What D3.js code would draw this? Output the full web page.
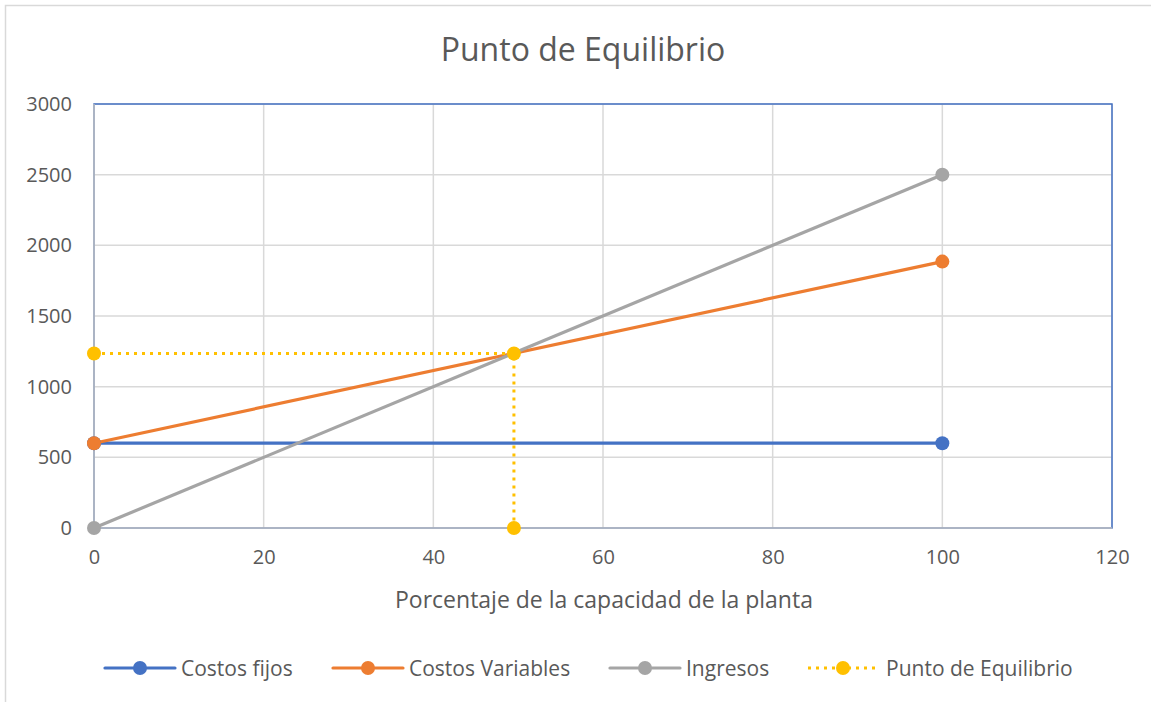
<!DOCTYPE html>
<html><head><meta charset="utf-8">
<script src="https://cdn.jsdelivr.net/npm/d3@7"></script>
<style>body{margin:0;background:#fff}svg{display:block}</style>
</head><body>
<script>
const xTicks = [0,20,40,60,80,100,120];
const yTicks = [0,500,1000,1500,2000,2500,3000];
const costosFijos = [[0,600],[100,600]];
const costosVariables = [[0,600],[100,1885]];
const ingresos = [[0,0],[100,2500]];
const puntoEquilibrio = [[0,1235],[49.5,1235],[49.5,0]];
const seriesNames = ["Costos fijos","Costos Variables","Ingresos","Punto de Equilibrio"];
const seriesColors = ["#4472C4","#ED7D31","#A5A5A5","#FFC000"];
const title = "Punto de Equilibrio";
const xTitle = "Porcentaje de la capacidad de la planta";

const W=1151,H=702;
const font="'Open Sans', sans-serif";
const svg=d3.select("body").append("svg").attr("width",W).attr("height",H);
svg.append("path").attr("d","M5.5,702 V5.5 H1151").attr("fill","none").attr("stroke","#d9d9d9").attr("stroke-width",1.5);

const x=d3.scaleLinear().domain([0,120]).range([94,1112]);
const y=d3.scaleLinear().domain([0,3000]).range([528,104]);

svg.append("text").attr("x",583).attr("y",61).attr("text-anchor","middle")
  .attr("font-family",font).attr("font-size",32).attr("fill","#595959").text(title);

svg.append("g").selectAll("line").data(yTicks.slice(1)).join("line")
  .attr("x1",x(0)).attr("x2",x(120)).attr("y1",d=>y(d)).attr("y2",d=>y(d))
  .attr("stroke","#d9d9d9").attr("stroke-width",1.5);
svg.append("g").selectAll("line").data(xTicks.slice(1)).join("line")
  .attr("y1",y(0)).attr("y2",y(3000)).attr("x1",d=>x(d)).attr("x2",d=>x(d))
  .attr("stroke","#d9d9d9").attr("stroke-width",1.5);
svg.append("rect").attr("x",x(0)).attr("y",y(3000)).attr("width",x(120)-x(0)).attr("height",y(0)-y(3000))
  .attr("fill","none").attr("stroke","#4472C4").attr("stroke-width",1.5);
svg.append("line").attr("x1",x(0)).attr("x2",x(0)).attr("y1",y(0)).attr("y2",y(3000)).attr("stroke","#bfbfbf").attr("stroke-width",1.5);
svg.append("line").attr("x1",x(0)).attr("x2",x(120)).attr("y1",y(0)).attr("y2",y(0)).attr("stroke","#bfbfbf").attr("stroke-width",1.5);

const yAxis=svg.append("g").attr("transform",`translate(${x(0)},0)`)
  .call(d3.axisLeft(y).tickValues(yTicks).tickFormat(d3.format("d")).tickSize(0).tickPadding(22));
const xAxis=svg.append("g").attr("transform",`translate(0,${y(0)})`)
  .call(d3.axisBottom(x).tickValues(xTicks).tickFormat(d3.format("d")).tickSize(0).tickPadding(22));
[yAxis,xAxis].forEach(a=>{a.select(".domain").remove();
  a.selectAll("text").attr("font-family",font).attr("font-size",20).attr("fill","#595959");});

svg.append("text").attr("x",604).attr("y",608).attr("text-anchor","middle")
  .attr("font-family",font).attr("font-size",23).attr("fill","#595959").text(xTitle);

const line=d3.line().x(d=>x(d[0])).y(d=>y(d[1]));
const data=[costosFijos,costosVariables,ingresos,puntoEquilibrio];
data.forEach((s,i)=>{
  const p=svg.append("path").attr("d",line(s)).attr("fill","none").attr("stroke",seriesColors[i]).attr("stroke-width",3.2);
  if(i===3) p.attr("stroke-dasharray","3 5").attr("stroke-width",3);
});
data.forEach((s,i)=>{
  svg.append("g").selectAll("circle").data(s).join("circle")
    .attr("cx",d=>x(d[0])).attr("cy",d=>y(d[1])).attr("r",7).attr("fill",seriesColors[i]);
});

const legX=[105,333,610,808];
const legY=668;
seriesNames.forEach((n,i)=>{
  const g=svg.append("g");
  const l=g.append("line").attr("x1",legX[i]).attr("x2",legX[i]+70).attr("y1",legY).attr("y2",legY)
    .attr("stroke",seriesColors[i]).attr("stroke-width",3.2);
  if(i===3) l.attr("stroke-dasharray","3 5").attr("stroke-width",3);
  else l.attr("stroke-linecap","round");
  g.append("circle").attr("cx",legX[i]+35).attr("cy",legY).attr("r",7).attr("fill",seriesColors[i]);
  g.append("text").attr("x",legX[i]+(i===3?78:76)).attr("y",legY+7.5).attr("font-family",font).attr("font-size",21)
    .attr("fill","#595959").text(n);
});
</script>
</body></html>
